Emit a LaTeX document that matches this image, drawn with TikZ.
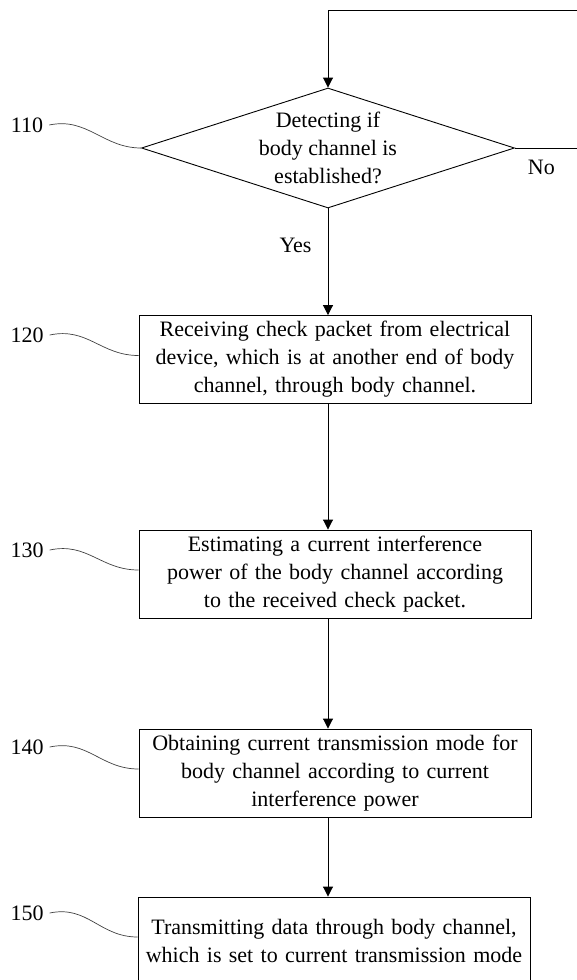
\documentclass[tikz,border=0pt]{standalone}
\usepackage{fontspec}
\setmainfont{Liberation Serif}
\usetikzlibrary{shapes.geometric,arrows.meta}
\tikzset{
  every node/.style={font=\fontsize{22}{28}\selectfont},
  stepbox/.style={draw, line width=0.9pt, text width=392pt, align=center,
    minimum height=88pt, inner sep=0pt},
  decision/.style={draw, diamond, aspect=3.1, minimum width=373pt,
    minimum height=120pt, inner sep=0pt, align=center, line width=0.9pt},
  flow/.style={-{Triangle[length=10pt,width=10pt]}, line width=0.9pt},
  refline/.style={line width=0.7pt, black!75},
  reflabel/.style={inner sep=0pt},
}
\begin{document}
\begin{tikzpicture}[x=1pt, y=-1pt]
    \useasboundingbox (0, 0) rectangle (576, 980);
    % Steps
    \node [decision] (d110) at (328, 148) {Detecting if\\body channel is\\established?};
    \node [stepbox] (b120) at (335, 359.5) {Receiving check packet from electrical\\device, which is at another end of body\\channel, through body channel.};
    \node [stepbox] (b130) at (335, 574) {Estimating a current interference\\power of the body channel according\\to the received check packet.};
    \node [stepbox] (b140) at (335, 773) {Obtaining current transmission mode for\\body channel according to current\\interference power};
    \node [stepbox] (b150) at (334, 941) {Transmitting data through body channel,\\which is set to current transmission mode};

    % Draw flow
    \coordinate (loop) at (600, 10);
    \draw [flow] (d110.east) -| node [pos=0.155, below=12pt, reflabel] {No} (loop) -| (d110.north);
    \draw [flow] (d110.south) -- node [pos=0.35, left=16pt, reflabel] {Yes} (d110.south |- b120.north);
    \draw [flow] (d110.south |- b120.south) -- (d110.south |- b130.north);
    \draw [flow] (d110.south |- b130.south) -- (d110.south |- b140.north);
    \draw [flow] (d110.south |- b140.south) -- (d110.south |- b150.north);

    % Reference numerals
    \node [reflabel] (l110) at (27, 125) {110};
    \node [reflabel] (l120) at (27, 335) {120};
    \node [reflabel] (l130) at (27, 550) {130};
    \node [reflabel] (l140) at (27, 747) {140};
    \node [reflabel] (l150) at (27, 913) {150};
    \draw [refline] ([xshift=6pt]l110.east) .. controls +(38, -8) and +(-38, 0) .. (d110.west);
    \draw [refline] ([xshift=6pt]l120.east) .. controls +(38, -8) and +(-38, 0) .. ([yshift=4pt]b120.west);
    \draw [refline] ([xshift=6pt]l130.east) .. controls +(38, -8) and +(-38, 0) .. ([yshift=4pt]b130.west);
    \draw [refline] ([xshift=6pt]l140.east) .. controls +(38, -8) and +(-38, 0) .. ([yshift=4pt]b140.west);
    \draw [refline] ([xshift=6pt]l150.east) .. controls +(38, -8) and +(-38, 0) .. ([yshift=4pt]b150.west);
\end{tikzpicture}
\end{document}
